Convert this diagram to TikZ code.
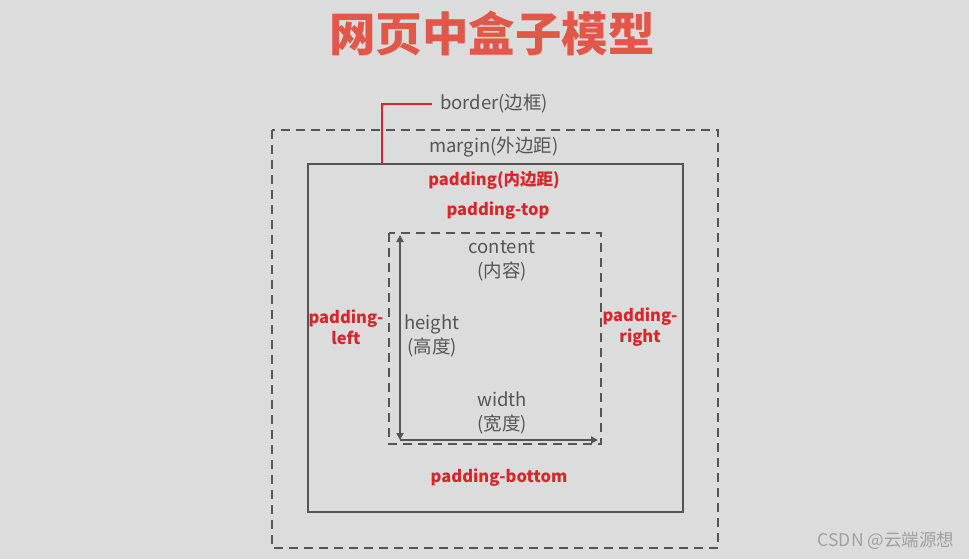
\documentclass[tikz,border=0pt]{standalone}
\usepackage{fontspec}
\setmainfont{Noto Sans CJK SC}
\usetikzlibrary{arrows.meta}
\definecolor{bggray}{HTML}{DCDCDC}
\definecolor{linegray}{HTML}{555555}
\definecolor{textgray}{HTML}{555555}
\definecolor{labelred}{HTML}{D8262A}
\definecolor{titlered}{HTML}{E2574A}
\definecolor{markgray}{HTML}{A0A0A0}

\begin{document}
\begin{tikzpicture}[x=1pt,y=-1pt,
		grayline/.style={draw=linegray,line width=1.8pt},
		dashline/.style={grayline,dash pattern=on 9pt off 6pt},
		graytext/.style={text=textgray,inner sep=0pt,align=center,font=\fontsize{18.5}{24}\selectfont},
		redtext/.style={text=labelred,inner sep=0pt,align=center,font=\fontsize{16.5}{21}\selectfont\bfseries}]
			\fill [bggray] (0,0) rectangle (969,559);
			\useasboundingbox (0,0) rectangle (969,559);
			
			% margin, border and content boxes
			\coordinate (mtl) at (272,130);
			\coordinate (mbr) at (718,548);
			\coordinate (btl) at (308,164);
			\coordinate (bbr) at (683,512);
			\coordinate (ctl) at (389,233);
			\coordinate (cbr) at (601,444);
			
			\draw [dashline] (mtl) rectangle (mbr);
			\draw [grayline] (btl) rectangle (bbr);
			\draw [dashline] (ctl) rectangle (cbr);
			
			% height and width arrows
			\coordinate (hbot) at (400,440);
			\coordinate (htop) at (400,235);
			\coordinate (wend) at (598,440);
			\draw [grayline,{Triangle[length=7pt,width=7pt]}-{Triangle[length=7pt,width=7pt]}] (hbot) -- (htop);
			\draw [grayline,-{Triangle[length=7pt,width=7pt]}] (hbot) -- (wend);
			
			\node [text=titlered,font=\fontsize{46.5}{48}\selectfont\bfseries] (title) at (492,33) {网页中盒子模型};
			
			\node [graytext,anchor=west] (border) at (440,104) {border(边框)};
			\coordinate (bfoot) at (382,164);
			\draw [labelred,line width=1.4pt] (bfoot) |- ([xshift=-8pt]border.west);
			\node [graytext] (margin) at (494,147) {margin(外边距)};
			
			\node [redtext] (padding) at (494,180) {padding(内边距)};
			\node [redtext] (ptop) at (498,211) {padding-top};
			\node [redtext] (pleft) at (346,327) {padding-\\left};
			\node [redtext] (pright) at (640,327) {padding-\\right};
			\node [redtext] (pbottom) at (499,478) {padding-bottom};
			
			\node [graytext] (content) at (502,261) {content\\(内容)};
			\node [graytext] (height) at (432,336) {height\\(高度)};
			\node [graytext] (width) at (502,413) {width\\(宽度)};
			
			\node [text=markgray,inner sep=0pt,font=\fontsize{17.5}{19}\selectfont] (mark) at (886,541) {CSDN @云端源想};
		\end{tikzpicture}
\end{document}
